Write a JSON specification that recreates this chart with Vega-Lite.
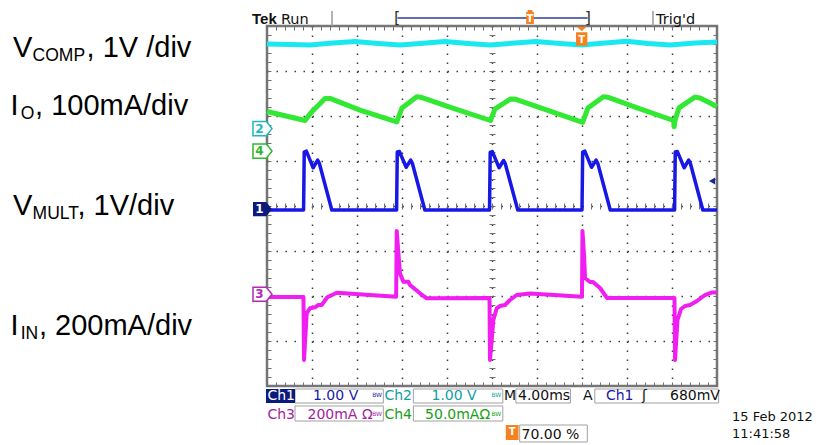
{
"$schema": "https://vega.github.io/schema/vega-lite/v6.json",
"width": 450, "height": 360,
"autosize": {"type": "none"},
"padding": {"left": 267, "top": 26, "right": 117, "bottom": 59},
"background": "white",
"config": {"view": {"stroke": "#767676", "strokeWidth": 2.5, "fill": "white"}},
"resolve": {"axis": {"x": "independent", "y": "independent"}},
"datasets": {
"traces": [
{"ch":"ch2","t":0,"d":3.6},{"ch":"ch2","t":2.04,"d":3.589},{"ch":"ch2","t":3.82,"d":3.578},{"ch":"ch2","t":5.87,"d":3.622},{"ch":"ch2","t":7.82,"d":3.656},{"ch":"ch2","t":9.87,"d":3.611},{"ch":"ch2","t":11.82,"d":3.578},{"ch":"ch2","t":13.87,"d":3.618},{"ch":"ch2","t":15.82,"d":3.656},{"ch":"ch2","t":17.87,"d":3.611},{"ch":"ch2","t":19.82,"d":3.578},{"ch":"ch2","t":22.04,"d":3.622},{"ch":"ch2","t":23.91,"d":3.656},{"ch":"ch2","t":26.04,"d":3.611},{"ch":"ch2","t":28.0,"d":3.578},{"ch":"ch2","t":30.04,"d":3.622},{"ch":"ch2","t":32.0,"d":3.66},{"ch":"ch2","t":33.87,"d":3.611},{"ch":"ch2","t":35.82,"d":3.578},{"ch":"ch2","t":38.04,"d":3.622},{"ch":"ch2","t":40.0,"d":3.644},
{"ch":"ch4","t":0.0,"d":2.1},{"ch":"ch4","t":3.38,"d":1.9},{"ch":"ch4","t":3.9,"d":2.07},{"ch":"ch4","t":5.16,"d":2.39},{"ch":"ch4","t":5.6,"d":2.39},{"ch":"ch4","t":8.27,"d":2.13},{"ch":"ch4","t":11.53,"d":1.87},{"ch":"ch4","t":12.0,"d":2.18},{"ch":"ch4","t":13.31,"d":2.43},{"ch":"ch4","t":13.78,"d":2.41},{"ch":"ch4","t":16.71,"d":2.16},{"ch":"ch4","t":19.87,"d":1.9},{"ch":"ch4","t":20.27,"d":2.16},{"ch":"ch4","t":21.66,"d":2.38},{"ch":"ch4","t":22.13,"d":2.37},{"ch":"ch4","t":25.16,"d":2.11},{"ch":"ch4","t":28.06,"d":1.86},{"ch":"ch4","t":28.53,"d":2.18},{"ch":"ch4","t":29.9,"d":2.43},{"ch":"ch4","t":30.4,"d":2.41},{"ch":"ch4","t":33.16,"d":2.16},{"ch":"ch4","t":36.14,"d":1.9},{"ch":"ch4","t":36.2,"d":1.76},{"ch":"ch4","t":36.26,"d":1.9},{"ch":"ch4","t":36.62,"d":2.18},{"ch":"ch4","t":38.04,"d":2.42},{"ch":"ch4","t":38.49,"d":2.4},{"ch":"ch4","t":40.0,"d":2.21},
{"ch":"ch1","t":0,"d":-0.09},
{"ch":"ch1","t":3.25,"d":-0.09},{"ch":"ch1","t":3.31,"d":1.2},{"ch":"ch1","t":3.5,"d":1.22},{"ch":"ch1","t":4.1,"d":0.85},{"ch":"ch1","t":4.5,"d":1.02},{"ch":"ch1","t":4.65,"d":0.95},{"ch":"ch1","t":5.76,"d":-0.09},
{"ch":"ch1","t":11.52,"d":-0.09},{"ch":"ch1","t":11.58,"d":1.2},{"ch":"ch1","t":11.77,"d":1.21},{"ch":"ch1","t":12.37,"d":0.86},{"ch":"ch1","t":12.77,"d":1.02},{"ch":"ch1","t":12.92,"d":0.95},{"ch":"ch1","t":14.03,"d":-0.09},
{"ch":"ch1","t":19.78,"d":-0.09},{"ch":"ch1","t":19.84,"d":1.19},{"ch":"ch1","t":20.03,"d":1.21},{"ch":"ch1","t":20.63,"d":0.85},{"ch":"ch1","t":21.03,"d":1.01},{"ch":"ch1","t":21.18,"d":0.94},{"ch":"ch1","t":22.29,"d":-0.09},
{"ch":"ch1","t":28.0,"d":-0.09},{"ch":"ch1","t":28.06,"d":1.2},{"ch":"ch1","t":28.25,"d":1.22},{"ch":"ch1","t":28.85,"d":0.86},{"ch":"ch1","t":29.25,"d":1.02},{"ch":"ch1","t":29.4,"d":0.95},{"ch":"ch1","t":30.51,"d":-0.09},
{"ch":"ch1","t":36.23,"d":-0.09},{"ch":"ch1","t":36.29,"d":1.2},{"ch":"ch1","t":36.48,"d":1.21},{"ch":"ch1","t":37.08,"d":0.85},{"ch":"ch1","t":37.48,"d":1.02},{"ch":"ch1","t":37.63,"d":0.95},{"ch":"ch1","t":38.74,"d":-0.09},
{"ch":"ch1","t":40,"d":-0.09},
{"ch":"ch3","t":0,"d":-2.022},{"ch":"ch3","t":3.24,"d":-2.022},{"ch":"ch3","t":3.29,"d":-3.422},{"ch":"ch3","t":3.53,"d":-2.384},{"ch":"ch3","t":3.82,"d":-2.273},{"ch":"ch3","t":4.27,"d":-2.251},{"ch":"ch3","t":4.56,"d":-2.2},{"ch":"ch3","t":4.86,"d":-2.2},{"ch":"ch3","t":5.36,"d":-2.029},{"ch":"ch3","t":6.2,"d":-1.927},{"ch":"ch3","t":11.48,"d":-2.016},{"ch":"ch3","t":11.53,"d":-0.556},{"ch":"ch3","t":11.67,"d":-1.016},{"ch":"ch3","t":11.82,"d":-1.496},{"ch":"ch3","t":12.12,"d":-1.682},{"ch":"ch3","t":12.56,"d":-1.682},{"ch":"ch3","t":12.71,"d":-1.756},{"ch":"ch3","t":13.6,"d":-1.94},{"ch":"ch3","t":14.2,"d":-2.051},{"ch":"ch3","t":19.78,"d":-2.044},{"ch":"ch3","t":19.82,"d":-3.422},{"ch":"ch3","t":20.12,"d":-2.533},{"ch":"ch3","t":20.42,"d":-2.273},{"ch":"ch3","t":20.71,"d":-2.222},{"ch":"ch3","t":21.16,"d":-2.2},{"ch":"ch3","t":21.6,"d":-2.089},{"ch":"ch3","t":22.2,"d":-1.978},{"ch":"ch3","t":23.38,"d":-1.944},{"ch":"ch3","t":28.0,"d":-2.016},{"ch":"ch3","t":28.04,"d":-0.556},{"ch":"ch3","t":28.18,"d":-1.089},{"ch":"ch3","t":28.27,"d":-1.6},{"ch":"ch3","t":28.71,"d":-1.689},{"ch":"ch3","t":28.98,"d":-1.689},{"ch":"ch3","t":29.6,"d":-1.822},{"ch":"ch3","t":30.22,"d":-2.044},{"ch":"ch3","t":36.22,"d":-2.044},{"ch":"ch3","t":36.27,"d":-3.422},{"ch":"ch3","t":36.49,"d":-2.533},{"ch":"ch3","t":36.8,"d":-2.289},{"ch":"ch3","t":37.16,"d":-2.222},{"ch":"ch3","t":37.6,"d":-2.2},{"ch":"ch3","t":38.22,"d":-2.111},{"ch":"ch3","t":38.93,"d":-1.978},{"ch":"ch3","t":39.56,"d":-1.922},{"ch":"ch3","t":40.0,"d":-1.922}
],
"labels": [
{"text":"V","t":-22.58,"d":3.311},{"text":", 1V /div","t":-16.04,"d":3.311},
{"text":"I","t":-22.79,"d":2.022},{"text":", 100mA/div","t":-20.62,"d":2.022},
{"text":"V","t":-22.58,"d":-0.2},{"text":", 1V/div","t":-16.85,"d":-0.2},
{"text":"I","t":-22.79,"d":-2.867},{"text":", 200mA/div","t":-20.27,"d":-2.867}
],
"subs": [
{"text":"COMP","t":-20.84,"d":3.311},{"text":"O","t":-21.9,"d":2.022},{"text":"MULT","t":-20.84,"d":-0.2},{"text":"IN","t":-21.9,"d":-2.867}
],
"status": [
{"text":"Ch1","t":0.04,"d":-4.322,"c":"inv"},{"text":"1.00 V","t":4.09,"d":-4.322,"c":"ch1"},{"text":"Ch2","t":10.44,"d":-4.322,"c":"ch2"},{"text":"1.00 V","t":14.62,"d":-4.322,"c":"ch2"},{"text":"M","t":21.07,"d":-4.322,"c":"sys"},{"text":"4.00ms","t":22.31,"d":-4.322,"c":"sys"},{"text":"A","t":28.09,"d":-4.322,"c":"sys"},{"text":"Ch1","t":30.13,"d":-4.322,"c":"ch1"},{"text":"ʃ","t":33.33,"d":-4.322,"c":"sys"},{"text":"680mV","t":35.82,"d":-4.322,"c":"sys"},
{"text":"Ch3","t":0.04,"d":-4.733,"c":"ch3"},{"text":"200mA Ω","t":3.6,"d":-4.733,"c":"ch3"},{"text":"Ch4","t":10.44,"d":-4.733,"c":"ch4"},{"text":"50.0mAΩ","t":14.05,"d":-4.733,"c":"ch4"},
{"text":"70.00 %","t":22.62,"d":-5.178,"c":"sys"}
],
"bw": [
{"text":"BW","t":9.35,"d":-4.25,"c":"ch1"},{"text":"BW","t":19.95,"d":-4.25,"c":"ch2"},{"text":"BW","t":9.35,"d":-4.66,"c":"ch3"},{"text":"BW","t":19.95,"d":-4.66,"c":"ch4"}
],
"datetime": [
{"text":"15 Feb  2012","t":41.33,"d":-4.778},{"text":"11:41:58","t":41.33,"d":-5.156}
],
"outlines": [
{"t1":2.49,"t2":10.34,"d1":-4.067,"d2":-4.378},{"t1":13.01,"t2":20.96,"d1":-4.067,"d2":-4.378},{"t1":22.12,"t2":26.97,"d1":-4.067,"d2":-4.378},{"t1":29.14,"t2":40.15,"d1":-4.067,"d2":-4.378},
{"t1":2.49,"t2":10.34,"d1":-4.444,"d2":-4.778},{"t1":13.01,"t2":20.96,"d1":-4.444,"d2":-4.778},{"t1":22.46,"t2":28.47,"d1":-4.867,"d2":-5.244}
],
"fills": [
{"t1":-0.09,"t2":2.49,"d1":-4.067,"d2":-4.378,"c":"navy"},{"t1":21.23,"t2":22.36,"d1":-4.867,"d2":-5.2,"c":"trig"}
],
"rules": [
{"t1":5.78,"t2":5.78,"d1":4.333,"d2":4.0,"c":"sep"},{"t1":34.31,"t2":34.31,"d1":4.333,"d2":4.0,"c":"sep"},{"t1":11.6,"t2":28.5,"d1":4.178,"d2":4.178,"c":"rec"}
],
"headBold": [{"text":"Tek","t":-1.33,"d":4.044}],
"headText": [{"text":"Run","t":1.24,"d":4.044},{"text":"Trig'd","t":34.58,"d":4.044}],
"brackets": [{"text":"[","t":11.56,"d":4.178},{"text":"]","t":28.53,"d":4.178}],
"markers": [{"t":-0.4,"d":1.72,"c":"m2"},{"t":-0.4,"d":1.22,"c":"m4"},{"t":-0.4,"d":-1.96,"c":"m3"}],
"marker1": [{"t":-0.4,"d":-0.07}],
"digits": [{"text":"2","t":-0.67,"d":1.72,"c":"m2"},{"text":"4","t":-0.67,"d":1.22,"c":"m4"},{"text":"3","t":-0.67,"d":-1.96,"c":"m3"},{"text":"1","t":-0.67,"d":-0.07,"c":"inv"}],
"gratT": [{"t":27.97,"d":3.773}],
"headT": [{"t":23.38,"d":4.2}],
"tglyph": [{"text":"T","t":27.97,"d":3.69},{"text":"T","t":23.38,"d":4.15},{"text":"T","t":21.8,"d":-5.03}],
"arrow": [{"t":39.56,"d":0.556}]
},
"layer": [
{"data":{"name":"traces"},"transform":[{"filter":"datum.ch==='ch2'"}],
 "mark":{"type":"line","color":"#19e8f0","strokeWidth":5,"strokeJoin":"round"},
 "encoding":{
  "x":{"field":"t","type":"quantitative","title":null,"scale":{"domain":[0,40],"nice":false,"zero":false},
       "axis":{"orient":"bottom","values":[4,8,12,16,20,24,28,32,36],"grid":true,"gridDash":[1.5,7.5],"gridColor":"#3c3c3c","gridWidth":1.5,"ticks":false,"labels":false,"domain":false}},
  "y":{"field":"d","type":"quantitative","title":null,"scale":{"domain":[-4,4],"nice":false,"zero":false},
       "axis":{"orient":"left","values":[-3,-2,-1,0,1,2,3],"grid":true,"gridDash":[1.5,7.5],"gridColor":"#3c3c3c","gridWidth":1.5,"ticks":false,"labels":false,"domain":false}}}},
{"data":{"name":"traces"},"transform":[{"filter":"datum.ch==='ch4'"}],
 "mark":{"type":"line","color":"#33e833","strokeWidth":5,"strokeJoin":"round"},
 "encoding":{
  "x":{"field":"t","type":"quantitative","title":null,"scale":{"domain":[0,40],"nice":false,"zero":false},
       "axis":{"orient":"bottom","offset":-360,"values":[0,0.8,1.6,2.4,3.2,4,4.8,5.6,6.4,7.2,8,8.8,9.6,10.4,11.2,12,12.8,13.6,14.4,15.2,16,16.8,17.6,18.4,19.2,20,20.8,21.6,22.4,23.2,24,24.8,25.6,26.4,27.2,28,28.8,29.6,30.4,31.2,32,32.8,33.6,34.4,35.2,36,36.8,37.6,38.4,39.2,40],"ticks":true,"tickSize":4,"tickColor":"#707070","labels":false,"domain":false,"grid":false}},
  "y":{"field":"d","type":"quantitative","title":null,"scale":{"domain":[-4,4],"nice":false,"zero":false},
       "axis":{"orient":"right","offset":-450,"values":[-4,-3.8,-3.6,-3.4,-3.2,-3,-2.8,-2.6,-2.4,-2.2,-2,-1.8,-1.6,-1.4,-1.2,-1,-0.8,-0.6,-0.4,-0.2,0,0.2,0.4,0.6,0.8,1,1.2,1.4,1.6,1.8,2,2.2,2.4,2.6,2.8,3,3.2,3.4,3.6,3.8,4],"ticks":true,"tickSize":4,"tickColor":"#707070","labels":false,"domain":false,"grid":false}}}},
{"data":{"name":"traces"},"transform":[{"filter":"datum.ch==='ch1'"}],
 "mark":{"type":"line","color":"#1717e6","strokeWidth":3.5,"strokeJoin":"round"},
 "encoding":{
  "x":{"field":"t","type":"quantitative","title":null,"scale":{"domain":[0,40],"nice":false,"zero":false},
       "axis":{"orient":"top","offset":-360,"values":[0,0.8,1.6,2.4,3.2,4,4.8,5.6,6.4,7.2,8,8.8,9.6,10.4,11.2,12,12.8,13.6,14.4,15.2,16,16.8,17.6,18.4,19.2,20,20.8,21.6,22.4,23.2,24,24.8,25.6,26.4,27.2,28,28.8,29.6,30.4,31.2,32,32.8,33.6,34.4,35.2,36,36.8,37.6,38.4,39.2,40],"ticks":true,"tickSize":4,"tickColor":"#707070","labels":false,"domain":false,"grid":false}},
  "y":{"field":"d","type":"quantitative","title":null,"scale":{"domain":[-4,4],"nice":false,"zero":false},
       "axis":{"orient":"left","offset":-450,"values":[-4,-3.8,-3.6,-3.4,-3.2,-3,-2.8,-2.6,-2.4,-2.2,-2,-1.8,-1.6,-1.4,-1.2,-1,-0.8,-0.6,-0.4,-0.2,0,0.2,0.4,0.6,0.8,1,1.2,1.4,1.6,1.8,2,2.2,2.4,2.6,2.8,3,3.2,3.4,3.6,3.8,4],"ticks":true,"tickSize":4,"tickColor":"#707070","labels":false,"domain":false,"grid":false}}}},
{"data":{"name":"traces"},"transform":[{"filter":"datum.ch==='ch3'"}],
 "mark":{"type":"line","color":"#f01ef0","strokeWidth":4,"strokeJoin":"round"},
 "encoding":{
  "x":{"field":"t","type":"quantitative","title":null,"scale":{"domain":[0,40],"nice":false,"zero":false},
       "axis":{"orient":"bottom","offset":-180,"values":[0,0.8,1.6,2.4,3.2,4,4.8,5.6,6.4,7.2,8,8.8,9.6,10.4,11.2,12,12.8,13.6,14.4,15.2,16,16.8,17.6,18.4,19.2,20,20.8,21.6,22.4,23.2,24,24.8,25.6,26.4,27.2,28,28.8,29.6,30.4,31.2,32,32.8,33.6,34.4,35.2,36,36.8,37.6,38.4,39.2,40],"ticks":true,"tickSize":3,"tickColor":"#707070","labels":false,"domain":false,"grid":false}},
  "y":{"field":"d","type":"quantitative","title":null,"scale":{"domain":[-4,4],"nice":false,"zero":false},
       "axis":{"orient":"left","offset":-225,"values":[-4,-3.8,-3.6,-3.4,-3.2,-3,-2.8,-2.6,-2.4,-2.2,-2,-1.8,-1.6,-1.4,-1.2,-1,-0.8,-0.6,-0.4,-0.2,0,0.2,0.4,0.6,0.8,1,1.2,1.4,1.6,1.8,2,2.2,2.4,2.6,2.8,3,3.2,3.4,3.6,3.8,4],"ticks":true,"tickSize":3,"tickColor":"#707070","labels":false,"domain":false,"grid":false}}}},
{"data":{"name":"labels"},
 "mark":{"type":"text","align":"left","baseline":"alphabetic","font":"Liberation Sans","fontSize":29,"color":"#000000"},
 "encoding":{
  "x":{"field":"t","type":"quantitative","title":null,"scale":{"domain":[0,40],"nice":false,"zero":false},
       "axis":{"orient":"top","offset":-180,"values":[0,0.8,1.6,2.4,3.2,4,4.8,5.6,6.4,7.2,8,8.8,9.6,10.4,11.2,12,12.8,13.6,14.4,15.2,16,16.8,17.6,18.4,19.2,20,20.8,21.6,22.4,23.2,24,24.8,25.6,26.4,27.2,28,28.8,29.6,30.4,31.2,32,32.8,33.6,34.4,35.2,36,36.8,37.6,38.4,39.2,40],"ticks":true,"tickSize":3,"tickColor":"#707070","labels":false,"domain":false,"grid":false}},
  "y":{"field":"d","type":"quantitative","title":null,"scale":{"domain":[-4,4],"nice":false,"zero":false},
       "axis":{"orient":"right","offset":-225,"values":[-4,-3.8,-3.6,-3.4,-3.2,-3,-2.8,-2.6,-2.4,-2.2,-2,-1.8,-1.6,-1.4,-1.2,-1,-0.8,-0.6,-0.4,-0.2,0,0.2,0.4,0.6,0.8,1,1.2,1.4,1.6,1.8,2,2.2,2.4,2.6,2.8,3,3.2,3.4,3.6,3.8,4],"ticks":true,"tickSize":3,"tickColor":"#707070","labels":false,"domain":false,"grid":false}},
  "text":{"field":"text"}}},
{"data":{"name":"subs"},
 "mark":{"type":"text","align":"left","baseline":"alphabetic","font":"Liberation Sans","fontSize":17.5,"dy":3.5,"color":"#000000"},
 "encoding":{
  "x":{"field":"t","type":"quantitative","title":null,"scale":{"domain":[0,40],"nice":false,"zero":false},"axis":null},
  "y":{"field":"d","type":"quantitative","title":null,"scale":{"domain":[-4,4],"nice":false,"zero":false},"axis":null},
  "text":{"field":"text"}}},
{"data":{"name":"outlines"},
 "mark":{"type":"rect","fill":"#ffffff","stroke":"#a0a0a0","strokeWidth":1},
 "encoding":{
  "x":{"field":"t1","type":"quantitative","title":null,"scale":{"domain":[0,40],"nice":false,"zero":false},"axis":null},
  "x2":{"field":"t2"},
  "y":{"field":"d1","type":"quantitative","title":null,"scale":{"domain":[-4,4],"nice":false,"zero":false},"axis":null},
  "y2":{"field":"d2"}}},
{"data":{"name":"fills"},
 "mark":{"type":"rect"},
 "encoding":{
  "x":{"field":"t1","type":"quantitative","title":null,"scale":{"domain":[0,40],"nice":false,"zero":false},"axis":null},
  "x2":{"field":"t2"},
  "y":{"field":"d1","type":"quantitative","title":null,"scale":{"domain":[-4,4],"nice":false,"zero":false},"axis":null},
  "y2":{"field":"d2"},
  "color":{"field":"c","type":"nominal","legend":null,"scale":{"domain":["ch1","ch2","ch3","ch4","sys","inv","navy","trig","sep","rec","m2","m3","m4"],"range":["#1a1aa6","#0f9ea6","#a3229f","#16a016","#111111","#ffffff","#0b1b7b","#f5821f","#9a9a9a","#2c3c9c","#1fb8c0","#b428b4","#2fb82f"]}}}},
{"data":{"name":"rules"},
 "mark":{"type":"rule","strokeWidth":1.5},
 "encoding":{
  "x":{"field":"t1","type":"quantitative","title":null,"scale":{"domain":[0,40],"nice":false,"zero":false},"axis":null},
  "x2":{"field":"t2"},
  "y":{"field":"d1","type":"quantitative","title":null,"scale":{"domain":[-4,4],"nice":false,"zero":false},"axis":null},
  "y2":{"field":"d2"},
  "color":{"field":"c","type":"nominal","legend":null,"scale":{"domain":["ch1","ch2","ch3","ch4","sys","inv","navy","trig","sep","rec","m2","m3","m4"],"range":["#1a1aa6","#0f9ea6","#a3229f","#16a016","#111111","#ffffff","#0b1b7b","#f5821f","#9a9a9a","#2c3c9c","#1fb8c0","#b428b4","#2fb82f"]}}}},
{"data":{"name":"status"},
 "mark":{"type":"text","align":"left","baseline":"alphabetic","font":"DejaVu Sans","fontSize":14},
 "encoding":{
  "x":{"field":"t","type":"quantitative","title":null,"scale":{"domain":[0,40],"nice":false,"zero":false},"axis":null},
  "y":{"field":"d","type":"quantitative","title":null,"scale":{"domain":[-4,4],"nice":false,"zero":false},"axis":null},
  "text":{"field":"text"},
  "color":{"field":"c","type":"nominal","legend":null,"scale":{"domain":["ch1","ch2","ch3","ch4","sys","inv","navy","trig","sep","rec","m2","m3","m4"],"range":["#1a1aa6","#0f9ea6","#a3229f","#16a016","#111111","#ffffff","#0b1b7b","#f5821f","#9a9a9a","#2c3c9c","#1fb8c0","#b428b4","#2fb82f"]}}}},
{"data":{"name":"bw"},
 "mark":{"type":"text","align":"left","baseline":"alphabetic","font":"DejaVu Sans","fontSize":6},
 "encoding":{
  "x":{"field":"t","type":"quantitative","title":null,"scale":{"domain":[0,40],"nice":false,"zero":false},"axis":null},
  "y":{"field":"d","type":"quantitative","title":null,"scale":{"domain":[-4,4],"nice":false,"zero":false},"axis":null},
  "text":{"field":"text"},
  "color":{"field":"c","type":"nominal","legend":null,"scale":{"domain":["ch1","ch2","ch3","ch4","sys","inv","navy","trig","sep","rec","m2","m3","m4"],"range":["#1a1aa6","#0f9ea6","#a3229f","#16a016","#111111","#ffffff","#0b1b7b","#f5821f","#9a9a9a","#2c3c9c","#1fb8c0","#b428b4","#2fb82f"]}}}},
{"data":{"name":"datetime"},
 "mark":{"type":"text","align":"left","baseline":"alphabetic","font":"DejaVu Sans","fontSize":13,"color":"#111111"},
 "encoding":{
  "x":{"field":"t","type":"quantitative","title":null,"scale":{"domain":[0,40],"nice":false,"zero":false},"axis":null},
  "y":{"field":"d","type":"quantitative","title":null,"scale":{"domain":[-4,4],"nice":false,"zero":false},"axis":null},
  "text":{"field":"text"}}},
{"data":{"name":"headBold"},
 "mark":{"type":"text","align":"left","baseline":"alphabetic","font":"Liberation Sans","fontSize":15,"fontWeight":"bold","color":"#111111"},
 "encoding":{
  "x":{"field":"t","type":"quantitative","title":null,"scale":{"domain":[0,40],"nice":false,"zero":false},"axis":null},
  "y":{"field":"d","type":"quantitative","title":null,"scale":{"domain":[-4,4],"nice":false,"zero":false},"axis":null},
  "text":{"field":"text"}}},
{"data":{"name":"headText"},
 "mark":{"type":"text","align":"left","baseline":"alphabetic","font":"DejaVu Sans","fontSize":14.5,"color":"#111111"},
 "encoding":{
  "x":{"field":"t","type":"quantitative","title":null,"scale":{"domain":[0,40],"nice":false,"zero":false},"axis":null},
  "y":{"field":"d","type":"quantitative","title":null,"scale":{"domain":[-4,4],"nice":false,"zero":false},"axis":null},
  "text":{"field":"text"}}},
{"data":{"name":"brackets"},
 "mark":{"type":"text","align":"center","baseline":"middle","font":"DejaVu Sans","fontSize":16,"color":"#333333"},
 "encoding":{
  "x":{"field":"t","type":"quantitative","title":null,"scale":{"domain":[0,40],"nice":false,"zero":false},"axis":null},
  "y":{"field":"d","type":"quantitative","title":null,"scale":{"domain":[-4,4],"nice":false,"zero":false},"axis":null},
  "text":{"field":"text"}}},
{"data":{"name":"markers"},
 "mark":{"type":"point","shape":"M-1,-0.74 L0.4,-0.74 L1,0 L0.4,0.74 L-1,0.74 Z","size":361,"filled":false,"fill":"#ffffff","strokeWidth":1.5,"opacity":1},
 "encoding":{
  "x":{"field":"t","type":"quantitative","title":null,"scale":{"domain":[0,40],"nice":false,"zero":false},"axis":null},
  "y":{"field":"d","type":"quantitative","title":null,"scale":{"domain":[-4,4],"nice":false,"zero":false},"axis":null},
  "color":{"field":"c","type":"nominal","legend":null,"scale":{"domain":["ch1","ch2","ch3","ch4","sys","inv","navy","trig","sep","rec","m2","m3","m4"],"range":["#1a1aa6","#0f9ea6","#a3229f","#16a016","#111111","#ffffff","#0b1b7b","#f5821f","#9a9a9a","#2c3c9c","#1fb8c0","#b428b4","#2fb82f"]}}}},
{"data":{"name":"marker1"},
 "mark":{"type":"point","shape":"M-1,-0.74 L0.4,-0.74 L1,0 L0.4,0.74 L-1,0.74 Z","size":361,"filled":true,"color":"#0b1b7b","opacity":1},
 "encoding":{
  "x":{"field":"t","type":"quantitative","title":null,"scale":{"domain":[0,40],"nice":false,"zero":false},"axis":null},
  "y":{"field":"d","type":"quantitative","title":null,"scale":{"domain":[-4,4],"nice":false,"zero":false},"axis":null}}},
{"data":{"name":"gratT"},
 "mark":{"type":"point","shape":"M-0.53,-1 L0.53,-1 L0,-0.55 Z M-0.6,-0.41 L0.6,-0.41 L0.6,1 L-0.6,1 Z","size":361,"filled":true,"color":"#f5821f","opacity":1},
 "encoding":{
  "x":{"field":"t","type":"quantitative","title":null,"scale":{"domain":[0,40],"nice":false,"zero":false},"axis":null},
  "y":{"field":"d","type":"quantitative","title":null,"scale":{"domain":[-4,4],"nice":false,"zero":false},"axis":null}}},
{"data":{"name":"headT"},
 "mark":{"type":"point","shape":"M-0.35,-1 L0.35,-1 L0.35,-0.7 L0.55,-0.7 L0.55,1 L-0.55,1 L-0.55,-0.7 L-0.35,-0.7 Z","size":196,"filled":true,"color":"#f5821f","opacity":1},
 "encoding":{
  "x":{"field":"t","type":"quantitative","title":null,"scale":{"domain":[0,40],"nice":false,"zero":false},"axis":null},
  "y":{"field":"d","type":"quantitative","title":null,"scale":{"domain":[-4,4],"nice":false,"zero":false},"axis":null}}},
{"data":{"name":"tglyph"},
 "mark":{"type":"text","align":"center","baseline":"middle","font":"DejaVu Sans","fontSize":10,"fontWeight":"bold","color":"#ffffff"},
 "encoding":{
  "x":{"field":"t","type":"quantitative","title":null,"scale":{"domain":[0,40],"nice":false,"zero":false},"axis":null},
  "y":{"field":"d","type":"quantitative","title":null,"scale":{"domain":[-4,4],"nice":false,"zero":false},"axis":null},
  "text":{"field":"text"}}},
{"data":{"name":"digits"},
 "mark":{"type":"text","align":"center","baseline":"middle","font":"DejaVu Sans","fontSize":12,"fontWeight":"bold"},
 "encoding":{
  "x":{"field":"t","type":"quantitative","title":null,"scale":{"domain":[0,40],"nice":false,"zero":false},"axis":null},
  "y":{"field":"d","type":"quantitative","title":null,"scale":{"domain":[-4,4],"nice":false,"zero":false},"axis":null},
  "text":{"field":"text"},
  "color":{"field":"c","type":"nominal","legend":null,"scale":{"domain":["ch1","ch2","ch3","ch4","sys","inv","navy","trig","sep","rec","m2","m3","m4"],"range":["#1a1aa6","#0f9ea6","#a3229f","#16a016","#111111","#ffffff","#0b1b7b","#f5821f","#9a9a9a","#2c3c9c","#1fb8c0","#b428b4","#2fb82f"]}}}},
{"data":{"name":"arrow"},
 "mark":{"type":"point","shape":"triangle-left","size":50,"filled":true,"color":"#1a2a8c","opacity":1},
 "encoding":{
  "x":{"field":"t","type":"quantitative","title":null,"scale":{"domain":[0,40],"nice":false,"zero":false},"axis":null},
  "y":{"field":"d","type":"quantitative","title":null,"scale":{"domain":[-4,4],"nice":false,"zero":false},"axis":null}}}
]
}
